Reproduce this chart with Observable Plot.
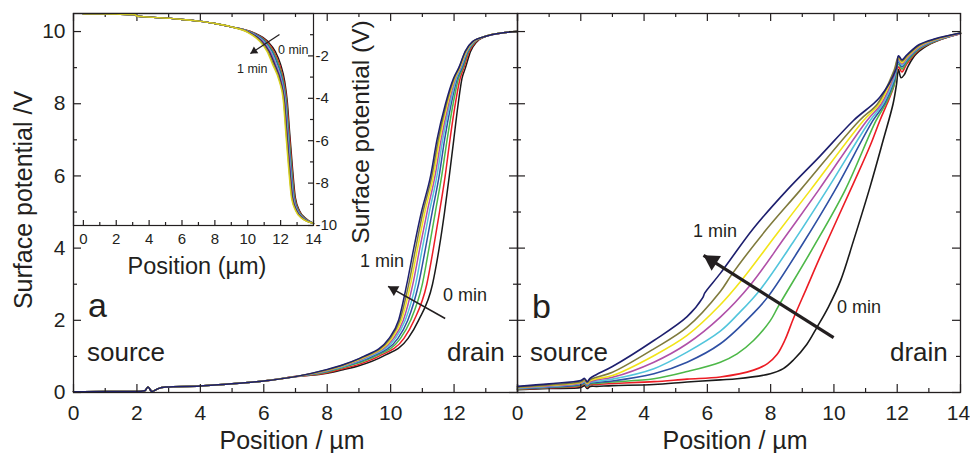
<!DOCTYPE html>
<html><head><meta charset="utf-8">
<script src="https://cdn.jsdelivr.net/npm/d3@7"></script>
<script src="https://cdn.jsdelivr.net/npm/@observablehq/plot@0.6"></script>
<style>
body{margin:0;background:#fff;}
#chart{position:relative;width:970px;height:453px;overflow:hidden;font-family:"Liberation Sans",Arial,sans-serif;color:#231f20;background:#fff;}
#chart svg{position:absolute;left:0;top:0;}
.t{position:absolute;white-space:nowrap;line-height:1;}
</style></head><body><div id="chart"></div>
<script>
// ---------- data ----------
const seriesColors = ["#1a1a1a","#ec1c24","#4db848","#2e4fa3","#52c5dc","#b050a8","#f2e418","#7f7a3c","#1d1f6e"];
const insetColors = ["#1a1a1a","#ec1c24","#4db848","#2e4fa3","#52c5dc","#b050a8","#1d1f6e","#7f7a3c","#d8d020"];
const xTicks = [0,2,4,6,8,10,12,14];
const xTickLabelsA = [0,2,4,6,8,10,12];
const xTickLabelsB = [0,2,4,6,8,10,12];
const xTickLabelLast = [14];
const xMinor = [1,3,5,7,9,11,13];
const yTicks = [0,2,4,6,8,10];
const yMinor = [1,3,5,7,9];
const insetXTicks = [0,2,4,6,8,10,12,14];
const insetXMinor = [1,3,5,7,9,11,13];
const insetYTicks = [-2,-4,-6,-8,-10];
const insetYMinor = [-1,-3,-5,-7,-9];

// panel a: shared low part, per-curve middle, x at shared y-levels, shared top
const aLow = [[0,0.02],[1,0.03],[2,0.03],[2.25,0.05],[2.35,0.15],[2.47,0.03],[2.65,0.1],[2.9,0.15],[4,0.18],[5,0.24],[6,0.32],[7,0.44]];
const aMidX = [8, 8.5, 9];
const aMid = [
  [0.53,0.63,0.74],[0.55,0.66,0.78],[0.57,0.69,0.82],[0.59,0.71,0.85],[0.60,0.72,0.87],
  [0.61,0.74,0.89],[0.62,0.75,0.91],[0.63,0.76,0.93],[0.64,0.77,0.94]];
const aLevels = [1.0,1.5,2,3,4,5,6,7,8,8.7,9.0,9.45,9.72];
const aX0 = [9.75,10.55,10.88,11.32,11.53,11.70,11.85,11.99,12.13,12.25,12.36,12.52,12.72];
const aX1 = [9.62,10.42,10.74,11.14,11.35,11.54,11.72,11.87,12.04,12.19,12.31,12.48,12.69];
const aX2 = [9.51,10.31,10.63,11.00,11.21,11.41,11.61,11.78,11.97,12.14,12.28,12.45,12.66];
const aX3 = [9.43,10.23,10.54,10.88,11.10,11.31,11.53,11.70,11.91,12.10,12.25,12.43,12.64];
const aX4 = [9.35,10.15,10.46,10.79,11.00,11.22,11.46,11.64,11.87,12.07,12.22,12.41,12.63];
const aX5 = [9.29,10.09,10.40,10.70,10.92,11.15,11.40,11.59,11.83,12.04,12.20,12.39,12.61];
const aX6 = [9.24,10.04,10.34,10.63,10.85,11.08,11.35,11.54,11.79,12.02,12.18,12.38,12.60];
const aX7 = [9.19,9.99,10.29,10.57,10.79,11.02,11.30,11.50,11.76,12.00,12.16,12.36,12.59];
const aX8 = [9.15,9.95,10.25,10.51,10.73,10.97,11.26,11.46,11.73,11.98,12.15,12.35,12.58];
const aTop = [[13.0,9.87],[13.5,9.96],[14,10.0]];

// panel b: one array per curve (0 min ... 1 min)
const b0 = [[0,0.08],[1,0.11],[2,0.14],[2.12,0.19],[2.2,0.11],[2.3,0.17],[2.5,0.17],[3,0.19],[4.31,0.22],[5.36,0.29],[6.41,0.35],[6.94,0.38],[7.99,0.52],[8.4,0.66],[8.72,0.9],[9.14,1.33],[9.46,1.8],[9.82,2.36],[10.21,3.1],[10.61,4.18],[11.14,5.69],[11.56,7.0],[11.87,8.0],[11.98,8.55],[12.04,8.95],[12.12,8.72],[12.22,8.8],[12.35,9.05],[12.6,9.38],[13.05,9.66],[13.6,9.85],[14,9.95]];
const b1 = [[0,0.09],[1,0.13],[2,0.18],[2.12,0.24],[2.2,0.15],[2.3,0.22],[2.5,0.22],[3,0.25],[4.31,0.3],[5.36,0.37],[6.41,0.43],[7.46,0.62],[7.9,0.8],[8.2,1.05],[8.45,1.45],[8.72,2.05],[9.14,2.9],[9.56,3.75],[10.61,5.78],[11.15,6.85],[11.45,7.53],[11.68,8.0],[11.88,8.45],[12.04,9.02],[12.15,8.88],[12.3,9.1],[12.7,9.5],[13.2,9.73],[14,9.94]];
const b2 = [[0,0.1],[1,0.14],[2,0.2],[2.12,0.26],[2.2,0.17],[2.3,0.24],[2.5,0.25],[3,0.29],[4.31,0.38],[5.36,0.58],[6.41,0.84],[6.94,1.07],[7.46,1.44],[7.99,1.99],[8.25,2.4],[9.3,3.95],[10.35,5.6],[11.33,7.53],[11.64,8.0],[11.9,8.52],[12.04,9.1],[12.15,8.96],[12.3,9.15],[12.7,9.52],[13.2,9.74],[14,9.95]];
const b3 = [[0,0.11],[1,0.15],[2,0.22],[2.12,0.28],[2.2,0.19],[2.3,0.26],[2.5,0.28],[3,0.32],[4.31,0.52],[5.36,0.84],[6.41,1.35],[7.46,2.2],[7.93,2.67],[9.0,4.1],[10.03,5.6],[11.23,7.53],[11.6,8.0],[11.9,8.62],[12.04,9.16],[12.15,9.02],[12.3,9.2],[12.7,9.54],[13.2,9.75],[14,9.95]];
const b4 = [[0,0.12],[1,0.17],[2,0.24],[2.12,0.3],[2.2,0.21],[2.3,0.28],[2.5,0.31],[3,0.37],[4.31,0.66],[5.36,1.12],[6.41,1.7],[7.0,2.2],[7.67,2.85],[8.7,4.15],[9.77,5.6],[11.14,7.53],[11.55,8.0],[11.9,8.7],[12.04,9.2],[12.15,9.06],[12.3,9.23],[12.7,9.56],[13.2,9.76],[14,9.95]];
const b5 = [[0,0.13],[1,0.18],[2,0.26],[2.12,0.32],[2.2,0.23],[2.3,0.3],[2.5,0.35],[3,0.42],[4.31,0.84],[5.36,1.35],[6.41,2.09],[7.36,2.98],[8.45,4.3],[9.51,5.6],[11.04,7.53],[11.5,8.0],[11.9,8.78],[12.04,9.24],[12.15,9.1],[12.3,9.26],[12.7,9.58],[13.2,9.77],[14,9.95]];
const b6 = [[0,0.14],[1,0.2],[2,0.28],[2.12,0.34],[2.2,0.25],[2.3,0.33],[2.5,0.38],[3,0.47],[4.31,1.02],[5.36,1.58],[6.41,2.43],[7.1,3.13],[8.2,4.4],[9.25,5.6],[10.93,7.53],[11.44,8.0],[11.9,8.85],[12.04,9.27],[12.15,9.14],[12.3,9.29],[12.7,9.6],[13.2,9.78],[14,9.96]];
const b7 = [[0,0.15],[1,0.21],[2,0.3],[2.12,0.36],[2.2,0.27],[2.3,0.36],[2.5,0.42],[3,0.56],[4.31,1.21],[5.36,1.81],[6.41,2.8],[6.78,3.28],[7.85,4.5],[8.93,5.6],[10.8,7.53],[11.38,8.0],[11.9,8.92],[12.04,9.3],[12.15,9.18],[12.3,9.32],[12.7,9.62],[13.2,9.79],[14,9.96]];
const b8 = [[0,0.17],[1,0.24],[2,0.33],[2.12,0.39],[2.2,0.3],[2.3,0.4],[2.5,0.5],[3,0.72],[4.31,1.44],[5.36,2.1],[5.85,2.62],[5.92,2.76],[6.41,3.3],[7.46,4.55],[8.51,5.6],[9.56,6.55],[10.61,7.53],[11.45,8.18],[11.97,8.98],[12.04,9.33],[12.15,9.22],[12.3,9.35],[12.7,9.64],[13.2,9.8],[14,9.96]];

// inset: shared flat part, x positions at shared y-levels, shared end point
const insetFlat = [[0,-0.02],[1,-0.02],[2,-0.03],[3.1,-0.05],[3.3,-0.13],[4,-0.17],[5,-0.22],[6,-0.28],[7,-0.36],[8,-0.47],[9,-0.63]];
const insetLevels = [-0.9,-1.3,-1.8,-2.4,-3.2,-4.1,-5.6,-7.25,-8.7,-9.3,-9.65];
const i0 = [10.35,11.20,11.68,12.00,12.25,12.40,12.55,12.72,12.90,13.15,13.50];
const i1 = [10.30,11.13,11.60,11.93,12.20,12.37,12.52,12.69,12.87,13.12,13.47];
const i2 = [10.26,11.07,11.54,11.87,12.16,12.34,12.49,12.66,12.84,13.09,13.44];
const i3 = [10.22,11.01,11.48,11.81,12.12,12.31,12.46,12.63,12.81,13.06,13.41];
const i4 = [10.18,10.95,11.42,11.75,12.08,12.28,12.43,12.60,12.78,13.03,13.38];
const i5 = [10.14,10.89,11.36,11.69,12.04,12.25,12.40,12.57,12.75,13.00,13.35];
const i6 = [10.10,10.83,11.30,11.63,12.00,12.22,12.37,12.54,12.72,12.97,13.32];
const i7 = [10.06,10.77,11.24,11.57,11.96,12.19,12.34,12.51,12.69,12.94,13.29];
const i8 = [10.02,10.71,11.18,11.51,11.92,12.16,12.31,12.48,12.66,12.91,13.26];
const insetEnd = [[14,-9.9]];

// annotation arrows (data units)
const arrowA = [{x1:11.72,y1:2.05,x2:9.92,y2:2.94}];
const arrowB = [{x1:9.99,y1:1.52,x2:5.88,y2:3.8}];
const arrowInset = [{x1:11.93,y1:-0.99,x2:10.16,y2:-1.89}];

// ---------- build ----------
const ink = "#231f20";
const W = 970, H = 453;
const aSeries = [aX0,aX1,aX2,aX3,aX4,aX5,aX6,aX7,aX8].map((xs,k) =>
  [...aLow, ...aMidX.map((x,i)=>[x,aMid[k][i]]), ...aLevels.map((y,i)=>[xs[i],y]), ...aTop]);
const bSeries = [b0,b1,b2,b3,b4,b5,b6,b7,b8];
const iSeries = [i0,i1,i2,i3,i4,i5,i6,i7,i8].map(xs =>
  [...insetFlat, ...insetLevels.map((y,i)=>[xs[i],y]), ...insetEnd]);

const lineOf = (s, color, sw, curve = "monotone-x") => Plot.line(s, {x: d=>d[0], y: d=>d[1], stroke: color, strokeWidth: sw, curve});

function frameTicks(pw, ph, xs, xm, ys, ym, opts) {
  const o = {stroke: ink, strokeWidth: 1.2};
  const M = opts.major, m = opts.minor;
  const marks = [];
  if (opts.bottom) { marks.push(Plot.tickX(xs,{x:d=>d, insetTop: ph-M, ...o}), Plot.tickX(xm,{x:d=>d, insetTop: ph-m, ...o})); }
  if (opts.top) { marks.push(Plot.tickX(xs,{x:d=>d, insetBottom: ph-M, ...o}), Plot.tickX(xm,{x:d=>d, insetBottom: ph-m, ...o})); }
  if (opts.left) { marks.push(Plot.tickY(ys,{y:d=>d, insetRight: pw-M, ...o}), Plot.tickY(ym,{y:d=>d, insetRight: pw-m, ...o})); }
  if (opts.right) { marks.push(Plot.tickY(ys,{y:d=>d, insetLeft: pw-M, ...o}), Plot.tickY(ym,{y:d=>d, insetLeft: pw-m, ...o})); }
  return marks;
}

const baseStyle = {background: "transparent", color: ink, fontFamily: "Liberation Sans, Arial, sans-serif", overflow: "visible"};

// filled arrowhead placed at the arrow tip, oriented with the plot's own scales
function arrowHead(spec, arrows, size, tipLen) {
  const probe = Plot.plot({...spec, marks: [Plot.frame()]});
  const sx = probe.scale("x"), sy = probe.scale("y");
  return arrows.map(a => {
    const dx = sx.apply(a.x2) - sx.apply(a.x1), dy = sy.apply(a.y2) - sy.apply(a.y1);
    const len = Math.hypot(dx, dy);
    const ang = Math.atan2(dx, -dy) * 180 / Math.PI;
    return Plot.dot([a], {x: "x2", y: "y2", symbol: "triangle", r: size, fill: ink, stroke: "none",
      rotate: ang, dx: -dx / len * tipLen, dy: -dy / len * tipLen});
  });
}

// panel a
const aML = 73, aMR = W - 517, mT = 13, mB = H - 392;
const aPW = W - aML - aMR, PH = H - mT - mB;
const specA = {
  width: W, height: H, marginLeft: aML, marginRight: aMR, marginTop: mT, marginBottom: mB,
  style: baseStyle, x: {domain: [0,14]}, y: {domain: [0,10.5]}
};
const plotA = Plot.plot({...specA,
  marks: [
    ...aSeries.map((s,k)=>lineOf(s, seriesColors[k], 1.5)),
    Plot.frame({stroke: ink, strokeWidth: 1.3}),
    ...frameTicks(aPW, PH, xTicks, xMinor, yTicks, yMinor, {major: 8, minor: 4, bottom: true, top: true, left: true, right: true}),
    Plot.axisX({ticks: xTickLabelsA, tickSize: 0, tickPadding: 13, fontSize: 21, label: null}),
    Plot.axisY({ticks: yTicks, tickSize: 0, tickPadding: 8, fontSize: 21, label: null}),
    Plot.link(arrowA, {x1:"x1", y1:"y1", x2:"x2", y2:"y2", stroke: ink, strokeWidth: 1.6}),
    ...arrowHead(specA, arrowA, 4.2, 6.5)
  ]
});

// panel b
const bML = 517, bMR = 10;
const bPW = W - bML - bMR;
const specB = {
  width: W, height: H, marginLeft: bML, marginRight: bMR, marginTop: mT, marginBottom: mB,
  style: baseStyle, x: {domain: [0,14]}, y: {domain: [0,10.5], axis: null}
};
const plotB = Plot.plot({...specB,
  marks: [
    ...bSeries.map((s,k)=>lineOf(s, seriesColors[k], 1.6, "catmull-rom")),
    Plot.frame({stroke: ink, strokeWidth: 1.3}),
    ...frameTicks(bPW, PH, xTicks, xMinor, yTicks, yMinor, {major: 8, minor: 4, bottom: true, top: true, left: true, right: true}),
    Plot.axisX({ticks: xTickLabelsB, tickSize: 0, tickPadding: 13, fontSize: 21, label: null}),
    Plot.axisX({ticks: xTickLabelLast, tickSize: 0, tickPadding: 13, fontSize: 21, label: null, dx: -2}),
    Plot.link(arrowB, {x1:"x1", y1:"y1", x2:"x2", y2:"y2", stroke: ink, strokeWidth: 3.2}),
    ...arrowHead(specB, arrowB, 6.5, 10)
  ]
});

// inset
const iML = 73, iMR = W - 313, iMB = H - 225;
const iPW = W - iML - iMR, iPH = H - mT - iMB;
const specI = {
  width: W, height: H, marginLeft: iML, marginRight: iMR, marginTop: mT, marginBottom: iMB,
  style: baseStyle, x: {domain: [-0.6,14]}, y: {domain: [-10,0]}
};
const plotI = Plot.plot({...specI,
  marks: [
    ...iSeries.map((s,k)=>lineOf(s, insetColors[k], 1.4)),
    Plot.frame({stroke: ink, strokeWidth: 1.2}),
    ...frameTicks(iPW, iPH, insetXTicks, insetXMinor, insetYTicks, insetYMinor, {major: 5, minor: 3, bottom: true, right: true}),
    Plot.axisX({ticks: insetXTicks, tickSize: 0, tickPadding: 8, fontSize: 15, label: null}),
    Plot.axisY({anchor: "right", ticks: insetYTicks, tickSize: 0, tickPadding: 2, fontSize: 15, label: null, tickFormat: d => String(d)}),
    Plot.link(arrowInset, {x1:"x1", y1:"y1", x2:"x2", y2:"y2", stroke: ink, strokeWidth: 1.2}),
    ...arrowHead(specI, arrowInset, 3, 4.5)
  ]
});

const chart = document.getElementById("chart");
chart.append(plotA, plotB, plotI);

// ---------- text ----------
function label(text, x, baseline, size, align) {
  const d = document.createElement("div");
  d.className = "t";
  d.textContent = text;
  d.style.fontSize = size + "px";
  d.style.left = x + "px";
  d.style.top = (baseline - 0.8464 * size) + "px";
  if (align === "center") d.style.transform = "translateX(-50%)";
  chart.append(d);
}
function vlabel(text, cx, cy, size) {
  const d = document.createElement("div");
  d.className = "t";
  d.textContent = text;
  d.style.fontSize = size + "px";
  d.style.left = cx + "px";
  d.style.top = cy + "px";
  d.style.transform = "translate(-50%,-50%) rotate(-90deg)";
  chart.append(d);
}
label("a", 88, 317, 34);
label("b", 532, 318, 34);
label("source", 87, 361, 26);
label("drain", 447, 361, 26);
label("source", 530, 361, 26);
label("drain", 890, 361, 26);
label("1 min", 360, 267, 18);
label("0 min", 443, 301, 18);
label("1 min", 693, 237, 18);
label("0 min", 837, 313, 18);
label("0 min", 278, 55, 12.5);
label("1 min", 237, 74, 12.5);
label("Position / \u00b5m", 292, 449, 25, "center");
label("Position / \u00b5m", 735, 449, 25, "center");
label("Position (\u00b5m)", 197, 275, 23.5, "center");
vlabel("Surface potential /V", 23, 200, 25);
vlabel("Surface potential (V)", 361, 132, 24.5);
</script>
</body></html>
